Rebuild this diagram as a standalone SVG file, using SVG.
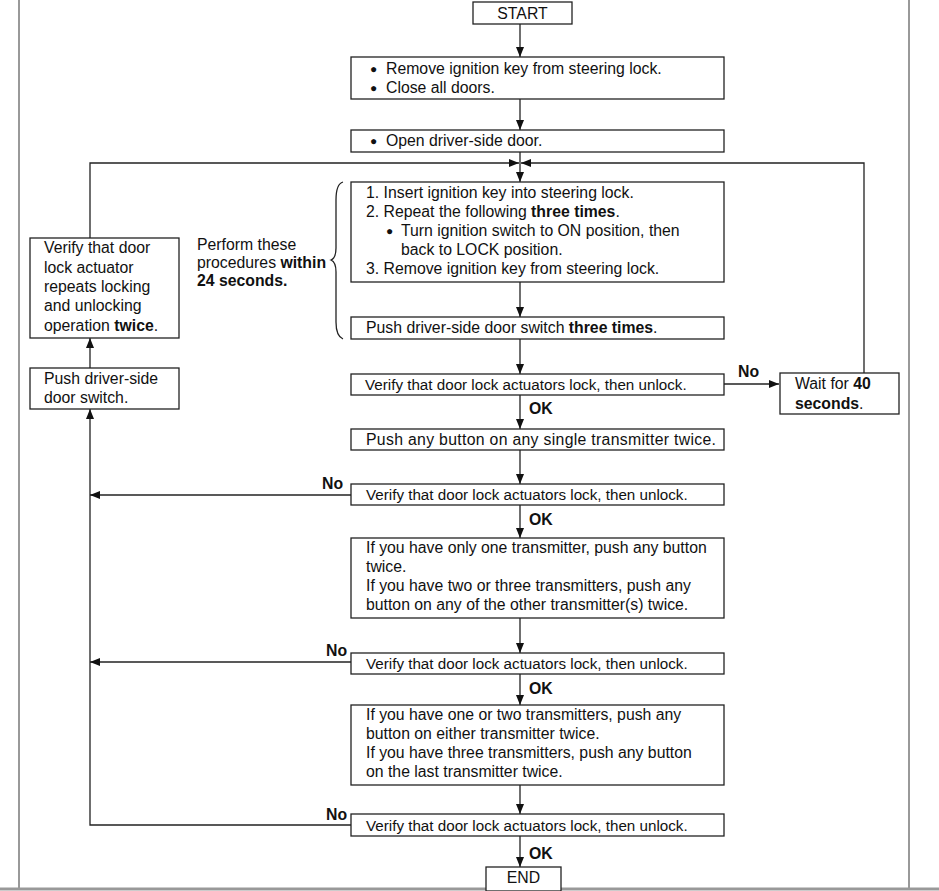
<svg xmlns="http://www.w3.org/2000/svg" width="939" height="891" viewBox="0 0 939 891">
<defs>
<style>
.b{fill:#fff;stroke:#222;stroke-width:1.3}
.t{font-family:"Liberation Sans",Arial,sans-serif;font-size:15.8px;fill:#111}
.s{font-family:"Liberation Sans",Arial,sans-serif;font-size:15.2px;fill:#111}
.d{font-family:"Liberation Sans",Arial,sans-serif;font-size:12px;fill:#111}
.bold{font-weight:bold}
.c{fill:none;stroke:#222;stroke-width:1.3}
.g{fill:none;stroke:#777;stroke-width:1.5}
</style>
<marker id="a" markerWidth="10" markerHeight="8" refX="10" refY="4" orient="auto" markerUnits="userSpaceOnUse">
<path d="M0,0 L10,4 L0,8 Z" fill="#111"/>
</marker>
</defs>
<rect width="939" height="891" fill="#fff"/>
<g id="frame">
<line class="g" x1="19" y1="0" x2="19" y2="888"/>
<line class="g" x1="909" y1="0" x2="909" y2="888"/>
<line x1="0" y1="889" x2="939" y2="889" stroke="#999" stroke-width="3"/>
</g>
<g id="connectors">
<line class="c" x1="520" y1="24" x2="520" y2="57" marker-end="url(#a)"/>
<line class="c" x1="520" y1="99" x2="520" y2="130" marker-end="url(#a)"/>
<line class="c" x1="520" y1="152" x2="520" y2="182" marker-end="url(#a)"/>
<polyline class="c" points="90,238 90,163 519,163" marker-end="url(#a)"/>
<polyline class="c" points="864,373 864,163 521,163" marker-end="url(#a)"/>
<line class="c" x1="520" y1="282" x2="520" y2="317" marker-end="url(#a)"/>
<line class="c" x1="520" y1="339" x2="520" y2="374" marker-end="url(#a)"/>
<line class="c" x1="723" y1="384" x2="779" y2="384" marker-end="url(#a)"/>
<line class="c" x1="520" y1="395" x2="520" y2="429" marker-end="url(#a)"/>
<line class="c" x1="520" y1="450" x2="520" y2="484" marker-end="url(#a)"/>
<line class="c" x1="351" y1="495" x2="90" y2="495" marker-end="url(#a)"/>
<line class="c" x1="520" y1="505" x2="520" y2="538" marker-end="url(#a)"/>
<line class="c" x1="520" y1="618" x2="520" y2="653" marker-end="url(#a)"/>
<line class="c" x1="351" y1="662" x2="90" y2="662" marker-end="url(#a)"/>
<line class="c" x1="520" y1="674" x2="520" y2="705" marker-end="url(#a)"/>
<line class="c" x1="520" y1="785" x2="520" y2="814" marker-end="url(#a)"/>
<polyline class="c" points="351,825 90,825 90,409" marker-end="url(#a)"/>
<line class="c" x1="90" y1="368" x2="90" y2="338" marker-end="url(#a)"/>
<line class="c" x1="520" y1="836" x2="520" y2="867" marker-end="url(#a)"/>
<path class="c" d="M343,182 Q336,184 336,200 L336,248 Q336,258 331,260 Q336,262 336,272 L336,322 Q336,336 343,339"/>
</g>
<g id="start">
<rect class="b" x="473" y="2" width="99" height="22"/>
<text class="t" x="522.5" y="19" text-anchor="middle">START</text>
</g>
<g id="n1">
<rect class="b" x="351" y="57" width="373" height="42"/>
<text class="d" x="370" y="73">●</text>
<text class="t" x="386" y="74">Remove ignition key from steering lock.</text>
<text class="d" x="370" y="92">●</text>
<text class="t" x="386" y="93">Close all doors.</text>
</g>
<g id="n2">
<rect class="b" x="351" y="130" width="373" height="22"/>
<text class="d" x="370" y="145">●</text>
<text class="t" x="386" y="146">Open driver-side door.</text>
</g>
<g id="n3">
<rect class="b" x="351" y="182" width="373" height="100"/>
<text class="t" x="366" y="198">1. Insert ignition key into steering lock.</text>
<text class="t" x="366" y="217">2. Repeat the following <tspan class="bold">three times</tspan>.</text>
<text class="d" x="386" y="235">●</text>
<text class="t" x="401" y="236">Turn ignition switch to ON position, then</text>
<text class="t" x="401" y="255">back to LOCK position.</text>
<text class="t" x="366" y="274">3. Remove ignition key from steering lock.</text>
</g>
<g id="n4">
<rect class="b" x="351" y="317" width="373" height="22"/>
<text class="t" x="366" y="333">Push driver-side door switch <tspan class="bold">three times</tspan>.</text>
</g>
<g id="note">
<text class="t" x="197" y="250">Perform these</text>
<text class="t" x="197" y="268">procedures <tspan class="bold">within</tspan></text>
<text class="t bold" x="197" y="286">24 seconds.</text>
</g>
<g id="verifyTwice">
<rect class="b" x="30" y="238" width="149" height="100"/>
<text class="t" x="44" y="253">Verify that door</text>
<text class="t" x="44" y="273">lock actuator</text>
<text class="t" x="44" y="292">repeats locking</text>
<text class="t" x="44" y="311">and unlocking</text>
<text class="t" x="44" y="331">operation <tspan class="bold">twice</tspan>.</text>
</g>
<g id="pushSwitch">
<rect class="b" x="30" y="368" width="149" height="41"/>
<text class="t" x="44" y="384">Push driver-side</text>
<text class="t" x="44" y="403">door switch.</text>
</g>
<g id="v1">
<rect class="b" x="351" y="374" width="373" height="21"/>
<text class="s" x="365" y="390">Verify that door lock actuators lock, then unlock.</text>
<text class="t bold" x="738" y="377">No</text>
<text class="t bold" x="529" y="414">OK</text>
</g>
<g id="wait">
<rect class="b" x="780" y="373" width="119" height="41"/>
<text class="t" x="795" y="389">Wait for <tspan class="bold">40</tspan></text>
<text class="t" x="795" y="409"><tspan class="bold">seconds</tspan>.</text>
</g>
<g id="n6">
<rect class="b" x="351" y="429" width="373" height="21"/>
<text class="t" x="366" y="445" textLength="350" lengthAdjust="spacing">Push any button on any single transmitter twice.</text>
</g>
<g id="v2">
<rect class="b" x="351" y="484" width="373" height="21"/>
<text class="s" x="366" y="500">Verify that door lock actuators lock, then unlock.</text>
<text class="t bold" x="322" y="489">No</text>
<text class="t bold" x="529" y="525">OK</text>
</g>
<g id="n8">
<rect class="b" x="351" y="538" width="373" height="80"/>
<text class="t" x="366" y="553">If you have only one transmitter, push any button</text>
<text class="t" x="366" y="572">twice.</text>
<text class="t" x="366" y="591">If you have two or three transmitters, push any</text>
<text class="t" x="366" y="610">button on any of the other transmitter(s) twice.</text>
</g>
<g id="v3">
<rect class="b" x="351" y="653" width="373" height="21"/>
<text class="s" x="366" y="669">Verify that door lock actuators lock, then unlock.</text>
<text class="t bold" x="326" y="656">No</text>
<text class="t bold" x="529" y="694">OK</text>
</g>
<g id="n10">
<rect class="b" x="351" y="705" width="373" height="80"/>
<text class="t" x="366" y="720">If you have one or two transmitters, push any</text>
<text class="t" x="366" y="739">button on either transmitter twice.</text>
<text class="t" x="366" y="758">If you have three transmitters, push any button</text>
<text class="t" x="366" y="777">on the last transmitter twice.</text>
</g>
<g id="v4">
<rect class="b" x="351" y="814" width="373" height="22"/>
<text class="s" x="366" y="831">Verify that door lock actuators lock, then unlock.</text>
<text class="t bold" x="326" y="820">No</text>
<text class="t bold" x="529" y="859">OK</text>
</g>
<g id="end">
<rect class="b" x="486" y="867" width="75" height="24"/>
<text class="t" x="523.5" y="883" text-anchor="middle">END</text>
</g>
</svg>
